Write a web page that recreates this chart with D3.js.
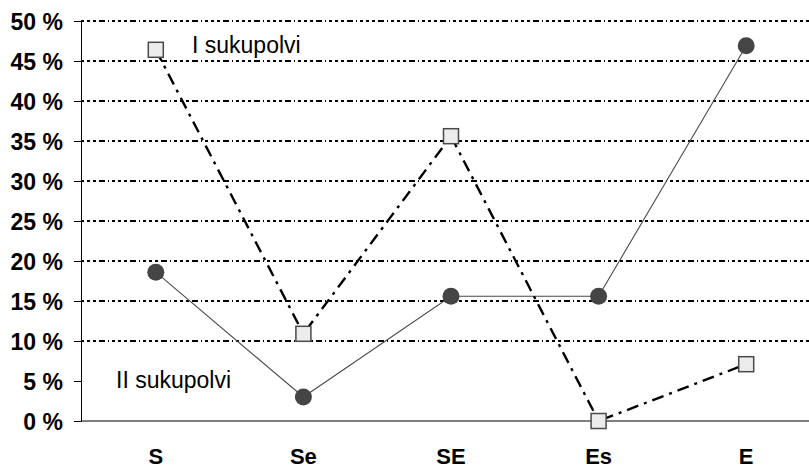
<!DOCTYPE html>
<html>
<head>
<meta charset="utf-8">
<script src="https://cdn.jsdelivr.net/npm/d3@7"></script>
<style>
  html, body { margin: 0; padding: 0; background: #fff; }
  svg { display: block; }
  text { font-family: "Liberation Sans", Arial, sans-serif; }
</style>
</head>
<body>
<svg id="chart" width="809" height="468"></svg>
<script>
// Categories along the x axis
const categories = ["S", "Se", "SE", "Es", "E"];
// Share (%) for each generation
const firstGen = [46.4, 10.9, 35.6, 0, 7.1];     // I sukupolvi (squares)
const secondGen = [18.6, 3.0, 15.6, 15.6, 46.9]; // II sukupolvi (circles)
// Y axis ticks and gridlines
const yTicks = [0, 5, 10, 15, 20, 25, 30, 35, 40, 45, 50];
const gridValues = [10, 15, 20, 25, 30, 35, 40, 45, 50];
const seriesLabels = ["I sukupolvi", "II sukupolvi"];

(function draw() {
  const svg = d3.select("#chart");
  const W = 809;
  const plotLeft = 81, plotTop = 21, plotBottom = 421;

  const x = d3.scalePoint().domain(categories).range([82, 820]).padding(0.5);
  const y = d3.scaleLinear().domain([0, 50]).range([plotBottom, plotTop]);

  // Gridlines
  svg.append("g").selectAll("line").data(gridValues).join("line")
    .attr("x1", plotLeft).attr("x2", W)
    .attr("y1", d => y(d)).attr("y2", d => y(d))
    .attr("stroke", "#000").attr("stroke-width", 2)
    .attr("stroke-dasharray", "3,3,3,3,3,3,6,3,1,3");

  // Y axis
  const yAxis = d3.axisLeft(y).tickValues(yTicks).tickSize(7).tickFormat(d => d + " %");
  const gy = svg.append("g").attr("transform", `translate(${plotLeft},0)`).call(yAxis);
  gy.attr("font-family", null).attr("font-size", null);
  gy.select(".domain").attr("stroke", "#000").attr("stroke-width", 1);
  gy.selectAll(".tick line").attr("stroke", "#000");
  gy.selectAll(".tick text")
    .attr("x", -18).attr("dy", "0.36em")
    .style("font-size", "23px").style("font-weight", "bold")
    .attr("fill", "#000");

  // X axis baseline and labels
  svg.append("line").attr("x1", plotLeft).attr("x2", W)
    .attr("y1", y(0)).attr("y2", y(0)).attr("stroke", "#000").attr("stroke-width", 1.2);
  svg.append("g").selectAll("text").data(categories).join("text")
    .attr("x", d => x(d)).attr("y", 464)
    .attr("text-anchor", "middle")
    .style("font-size", "22px").style("font-weight", "bold")
    .text(d => d);

  const line = d3.line().x((d, i) => x(categories[i])).y(d => y(d));

  // II sukupolvi: thin solid grey line
  svg.append("path").datum(secondGen)
    .attr("d", line).attr("fill", "none")
    .attr("stroke", "#4a4a4a").attr("stroke-width", 1.1);

  // I sukupolvi: heavy dash-dot black line
  svg.append("path").datum(firstGen)
    .attr("d", line).attr("fill", "none")
    .attr("stroke", "#000").attr("stroke-width", 2.4)
    .attr("stroke-dasharray", "12,6,3,6");

  // Markers
  svg.append("g").selectAll("circle").data(secondGen).join("circle")
    .attr("cx", (d, i) => x(categories[i])).attr("cy", d => y(d))
    .attr("r", 8.5).attr("fill", "#454545");

  const s = 15;
  svg.append("g").selectAll("rect").data(firstGen).join("rect")
    .attr("x", (d, i) => x(categories[i]) - s / 2).attr("y", d => y(d) - s / 2)
    .attr("width", s).attr("height", s)
    .attr("fill", "#ececec").attr("stroke", "#4a4a4a").attr("stroke-width", 1.5);

  // Series labels
  svg.append("text").attr("x", 192).attr("y", 53)
    .style("font-size", "23px").text(seriesLabels[0]);
  svg.append("text").attr("x", 116).attr("y", 388)
    .style("font-size", "23px").text(seriesLabels[1]);
})();
</script>
</body>
</html>
